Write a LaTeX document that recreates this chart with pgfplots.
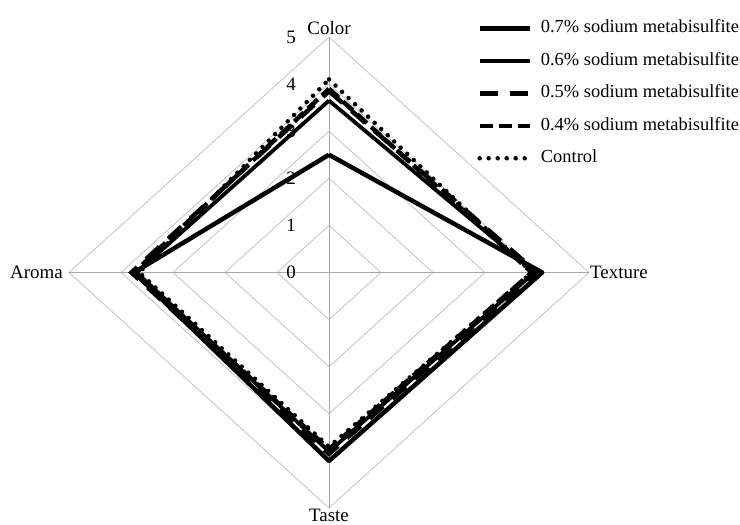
\documentclass[border=0pt]{standalone}
\usepackage{fontspec}
\setmainfont{Liberation Serif}
\usepackage{pgfplots}
\pgfplotsset{compat=1.18}
\definecolor{gridgray}{HTML}{C8C8C8}
\definecolor{spokegray}{HTML}{A8A8A8}
\newcommand{\legfont}{\fontsize{18.5}{22}\selectfont}
\begin{document}
\fontsize{19}{22}\selectfont
\begin{tikzpicture}
\useasboundingbox (-69bp,-17bp) rectangle (671bp,508bp);
\begin{axis}[at={(0,0)}, anchor=south west,
	scale only axis, width=520bp, height=471bp,
	xmin=-5, xmax=5, ymin=-5, ymax=5,
	hide axis, clip=false,
	legend cell align=left,
	legend image code/.code={\draw[#1] (0bp,0bp) -- (50bp,0bp);},
	legend style={at={(rel axis cs:0.785,1.037)}, anchor=north west,
		draw=none, fill=none, inner sep=0pt,
		font=\legfont,
		nodes={inner sep=0pt, font=\legfont, text height=13bp, text depth=4bp},
		row sep=15.5bp,
		/tikz/every odd column/.append style={column sep=9bp}},
]

% grid
\addplot[gridgray, line width=0.9bp, forget plot] coordinates {(0,1) (1,0) (0,-1) (-1,0) (0,1)};
\addplot[gridgray, line width=0.9bp, forget plot] coordinates {(0,2) (2,0) (0,-2) (-2,0) (0,2)};
\addplot[gridgray, line width=0.9bp, forget plot] coordinates {(0,3) (3,0) (0,-3) (-3,0) (0,3)};
\addplot[gridgray, line width=0.9bp, forget plot] coordinates {(0,4) (4,0) (0,-4) (-4,0) (0,4)};
\addplot[gridgray, line width=0.9bp, forget plot] coordinates {(0,5) (5,0) (0,-5) (-5,0) (0,5)};
\addplot[spokegray, line width=0.9bp, forget plot] coordinates {(0,-5) (0,5)};
\addplot[spokegray, line width=0.9bp, forget plot] coordinates {(-5,0) (5,0)};

% order: Color, Texture, Taste, Aroma
\addplot[black, line width=4.5bp, line join=round] coordinates {(0,2.5) (4.1,0) (0,-4.0) (-3.75,0) (0,2.5)};
\addplot[black, line width=3.8bp, line join=round] coordinates {(0,3.65) (3.95,0) (0,-3.8) (-3.7,0) (0,3.65)};
\addplot[black, line width=4.5bp, dash pattern=on 18bp off 12bp] coordinates {(0,3.85) (4.0,0) (0,-3.85) (-3.8,0) (0,3.85)};
\addplot[black, line width=4.5bp, dash pattern=on 13bp off 6bp] coordinates {(0,3.9) (3.9,0) (0,-3.75) (-3.75,0) (0,3.9)};
\addplot[black, line width=4.5bp, line cap=round, dash pattern=on 0bp off 9bp] coordinates {(0,4.1) (3.9,0) (0,-3.7) (-3.65,0) (0,4.1)};

\legend{0.7\% sodium metabisulfite, 0.6\% sodium metabisulfite, 0.5\% sodium metabisulfite, 0.4\% sodium metabisulfite, Control}

% scale labels
\node at (axis cs:-0.73,0) {0};
\node at (axis cs:-0.73,1) {1};
\node at (axis cs:-0.73,2) {2};
\node at (axis cs:-0.73,3) {3};
\node at (axis cs:-0.73,4) {4};
\node at (axis cs:-0.73,5) {5};

% category labels
\node[anchor=south, inner sep=2bp] at (axis cs:0,5) {Color};
\node[anchor=west, inner sep=1bp] at (axis cs:5,0) {Texture};
\node[anchor=north, inner sep=1bp] at (axis cs:0,-5) {Taste};
\node[anchor=east, inner sep=6bp] at (axis cs:-5,0) {Aroma};
\end{axis}
\end{tikzpicture}
\end{document}
